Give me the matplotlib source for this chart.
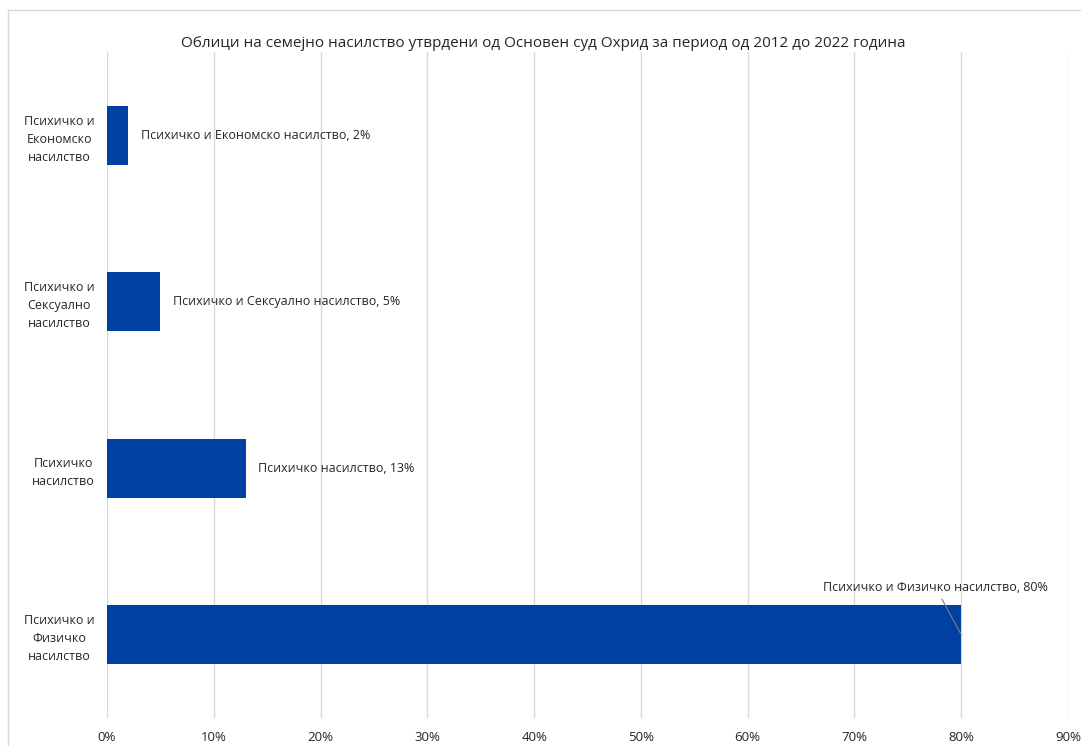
import matplotlib
matplotlib.use("Agg")
import matplotlib.pyplot as plt
from matplotlib.lines import Line2D

plt.rcParams['font.family'] = ['Open Sans', 'DejaVu Sans']

title = "Облици на семејно насилство утврдени од Основен суд Охрид за период од 2012 до 2022 година"
categories = ["Психичко и\nФизичко\nнасилство", "Психичко\nнасилство",
              "Психичко и\nСексуално\nнасилство", "Психичко и\nЕкономско\nнасилство"]
label_names = ["Психичко и Физичко насилство", "Психичко насилство",
               "Психичко и Сексуално насилство", "Психичко и Економско насилство"]
values = [0.80, 0.13, 0.05, 0.02]
xticks = [0, 0.1, 0.2, 0.3, 0.4, 0.5, 0.6, 0.7, 0.8, 0.9]
xticklabels = ["0%", "10%", "20%", "30%", "40%", "50%", "60%", "70%", "80%", "90%"]

bar_color = "#0040A0"
text_color = "#262626"
grid_color = "#D9D9D9"

fig = plt.figure(figsize=(10.81, 7.46), dpi=100)
ax = fig.add_axes([0.099, 0.0375, 0.889, 0.8925])

y = list(range(len(categories)))
ax.barh(y, values, height=0.355, color=bar_color, zorder=3)
ax.set_xlim(0, 0.9)
ax.set_ylim(-0.5, len(categories) - 0.5)
ax.set_xticks(xticks)
ax.set_xticklabels(xticklabels, fontsize=9.5, color=text_color)
ax.set_yticks(y)
ax.set_yticklabels(categories, fontsize=9, color=text_color, multialignment='center',
                   linespacing=1.5)
ax.tick_params(axis='both', length=0)
ax.tick_params(axis='x', pad=9)
ax.tick_params(axis='y', pad=9)
for s in ax.spines.values():
    s.set_visible(False)
ax.grid(axis='x', color=grid_color, linewidth=1, zorder=0)
ax.set_axisbelow(True)

for i, (name, v) in enumerate(zip(label_names, values)):
    txt = f"{name}, {int(round(v * 100))}%"
    if i == 0:
        ax.annotate(txt, xy=(v, i), xytext=(0.776, i + 0.285), ha='center', va='center',
                    fontsize=9, color=text_color, zorder=4,
                    arrowprops=dict(arrowstyle='-', color='#7F7F7F', lw=0.8,
                                    shrinkA=2, shrinkB=0))
    else:
        ax.annotate(txt, xy=(v, i), xytext=(9, 0), textcoords='offset points',
                    ha='left', va='center', fontsize=9, color=text_color, zorder=4)

fig.text(0.5024, 0.942, title, ha='center', va='center', fontsize=11, color=text_color)

# chart frame (top and left edges visible in the crop)
fig.add_artist(Line2D([8 / 1081, 1.0], [1 - 10 / 746, 1 - 10 / 746], transform=fig.transFigure,
                      color='#D9D9D9', lw=1))
fig.add_artist(Line2D([8 / 1081, 8 / 1081], [0, 1 - 10 / 746], transform=fig.transFigure,
                      color='#D9D9D9', lw=1))

fig.savefig("out.png", dpi=100, facecolor='white')
